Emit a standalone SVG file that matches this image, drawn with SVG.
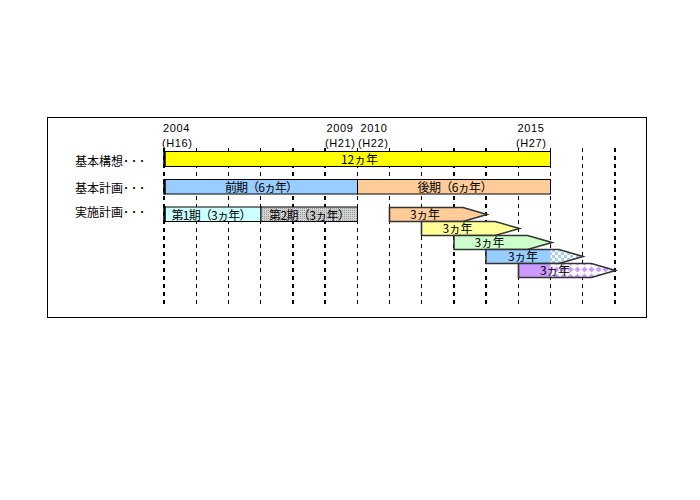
<svg xmlns="http://www.w3.org/2000/svg" width="700" height="500" viewBox="0 0 700 500">
<style>
.yr{font-family:"Liberation Sans","Noto Sans CJK JP",sans-serif;font-size:11px;letter-spacing:0.6px;fill:#000}
.lbl{font-family:"Noto Sans CJK JP","Liberation Sans",sans-serif;font-size:12px;fill:#000}
.bt{font-family:"Noto Sans CJK JP","Liberation Sans",sans-serif;font-size:12px;fill:#000;text-anchor:middle}
.bar{stroke:#000;stroke-width:1}
.arr{stroke:#333;stroke-width:1.6;stroke-linejoin:miter}
.grid line{stroke:#000;stroke-dasharray:4 4}
.thin{stroke-width:1}
.thick{stroke-width:2}
</style>
<defs>
<pattern id="dots" width="2" height="2" patternUnits="userSpaceOnUse">
<rect width="2" height="2" fill="#D2D2D2"/>
<rect width="1" height="1" fill="#9A9A9A"/>
</pattern>
<pattern id="check" width="6" height="6" patternUnits="userSpaceOnUse">
<rect width="6" height="6" fill="#A6D0F8"/>
<rect width="3" height="3" fill="#FFFFFF"/>
<rect x="3" y="3" width="3" height="3" fill="#FFFFFF"/>
</pattern>
<pattern id="diam" width="7" height="7" patternUnits="userSpaceOnUse">
<rect width="7" height="7" fill="#FFFFFF"/>
<polygon points="3.5,0.5 6.5,3.5 3.5,6.5 0.5,3.5" fill="#CC99FF"/>
</pattern>
</defs>
<rect width="700" height="500" fill="#FFFFFF"/>
<rect id="frame" x="47.5" y="117.5" width="599" height="200" fill="none" stroke="#000" stroke-width="1"/>

<g id="years">
<text class="yr" x="163" y="131.5">2004</text>
<text class="yr" x="162" y="146.5">(H16)</text>
<text class="yr" x="326.5" y="131.5">2009</text>
<text class="yr" x="325" y="146.5">(H21)</text>
<text class="yr" x="360.5" y="131.5">2010</text>
<text class="yr" x="358" y="146.5">(H22)</text>
<text class="yr" x="517.5" y="131.5">2015</text>
<text class="yr" x="516" y="146.5">(H27)</text>
</g>

<g id="connectors" class="grid">
<line class="thick" x1="164" y1="148" x2="164" y2="305"/>
<line class="thin" x1="196.5" y1="148" x2="196.5" y2="305"/>
<line class="thin" x1="228.5" y1="148" x2="228.5" y2="305"/>
<line class="thin" x1="260.5" y1="148" x2="260.5" y2="305"/>
<line class="thick" x1="293" y1="148" x2="293" y2="305"/>
<line class="thick" x1="325" y1="148" x2="325" y2="305"/>
<line class="thin" x1="357.5" y1="148" x2="357.5" y2="305"/>
<line class="thin" x1="389.5" y1="148" x2="389.5" y2="305"/>
<line class="thin" x1="421.5" y1="148" x2="421.5" y2="305"/>
<line class="thick" x1="454" y1="148" x2="454" y2="305"/>
<line class="thick" x1="486" y1="148" x2="486" y2="305"/>
<line class="thin" x1="518.5" y1="148" x2="518.5" y2="305"/>
<line class="thin" x1="550.5" y1="148" x2="550.5" y2="305"/>
<line class="thin" x1="582.5" y1="148" x2="582.5" y2="305"/>
<line class="thick" x1="615" y1="148" x2="615" y2="305"/>
</g>

<g id="row-labels">
<text class="lbl" x="75" y="166">基本構想<tspan letter-spacing="2">･･･</tspan></text>
<text class="lbl" x="75" y="192.5">基本計画<tspan letter-spacing="2">･･･</tspan></text>
<text class="lbl" x="75" y="216.5">実施計画<tspan letter-spacing="2">･･･</tspan></text>
</g>

<g id="kihon-koso">
<rect class="bar" x="164.5" y="151.5" width="386" height="15" fill="#FFFF00"/>
<line x1="164.5" y1="151" x2="164.5" y2="167" stroke="#000" stroke-width="2.5"/>
<text class="bt" x="359.5" y="164" textLength="37">12ヵ年</text>
</g>

<g id="zenki">
<rect class="bar" x="164.5" y="179.5" width="193" height="14.5" fill="#99CCFF"/>
<line x1="164.5" y1="179" x2="164.5" y2="194.5" stroke="#000" stroke-width="2.5"/>
<text class="bt" x="261.5" y="192" textLength="73">前期（6ヵ年）</text>
</g>
<g id="koki">
<rect class="bar" x="357.5" y="179.5" width="193" height="14.5" fill="#FFCC99"/>
<text class="bt" x="455" y="192" textLength="75">後期（6ヵ年）</text>
</g>

<g id="dai1ki">
<rect class="bar" x="164.5" y="207" width="96.5" height="14.5" fill="#CCFFFF"/>
<line x1="164.5" y1="206.5" x2="164.5" y2="222" stroke="#000" stroke-width="2.5"/>
<text class="bt" x="211.5" y="219.5" textLength="80">第1期（3ヵ年）</text>
</g>
<g id="dai2ki">
<rect class="bar" x="261" y="207" width="96.5" height="14.5" fill="url(#dots)"/>
<text class="bt" x="309.5" y="219.5" textLength="81">第2期（3ヵ年）</text>
</g>

<g id="arrow1">
<polygon class="arr" points="389.5,207.5 463,207.5 487,214.5 463,221.5 389.5,221.5" fill="#FFCC99"/>
<text class="bt" x="425" y="219" textLength="30">3ヵ年</text>
</g>
<g id="arrow2">
<polygon class="arr" points="421.5,221.5 495,221.5 519.5,228.5 495,235.5 421.5,235.5" fill="#FFFF99"/>
<text class="bt" x="457.5" y="233" textLength="30">3ヵ年</text>
</g>
<g id="arrow3">
<polygon class="arr" points="454,235.5 527.5,235.5 552,242.5 527.5,249.5 454,249.5" fill="#CCFFCC"/>
<text class="bt" x="489.5" y="247" textLength="30">3ヵ年</text>
</g>
<g id="arrow4">
<polygon points="486,249.5 559,249.5 583,256.5 559,263.5 486,263.5" fill="#99CCFF"/>
<polygon points="550.5,249.5 559,249.5 583,256.5 559,263.5 550.5,263.5" fill="url(#check)"/>
<polygon class="arr" points="486,249.5 559,249.5 583,256.5 559,263.5 486,263.5" fill="none"/>
<text class="bt" x="523" y="260.5" textLength="30">3ヵ年</text>
</g>
<g id="arrow5">
<polygon points="518.5,263.5 591.5,263.5 615.5,270.5 591.5,277.5 518.5,277.5" fill="#CC99FF"/>
<polygon points="550.5,263.5 591.5,263.5 615.5,270.5 591.5,277.5 550.5,277.5" fill="url(#diam)"/>
<polygon class="arr" points="518.5,263.5 591.5,263.5 615.5,270.5 591.5,277.5 518.5,277.5" fill="none"/>
<text class="bt" x="555" y="274.5" textLength="30">3ヵ年</text>
</g>
</svg>
